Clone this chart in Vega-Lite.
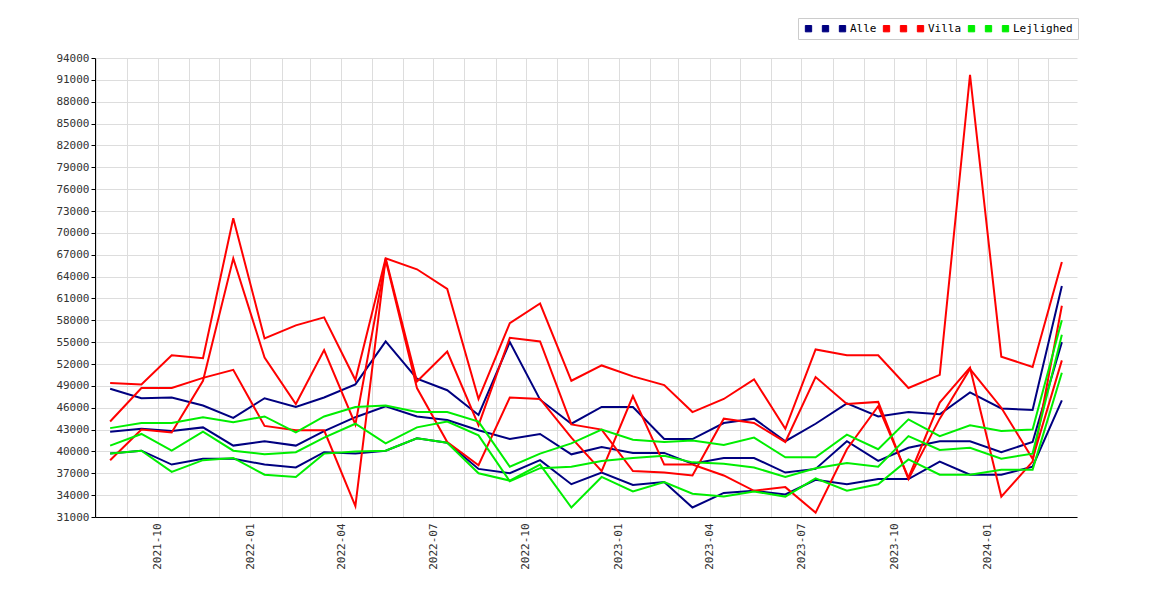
{
  "$schema": "https://vega.github.io/schema/vega-lite/v6.json",
  "width": 982,
  "height": 459,
  "autosize": "none",
  "padding": {"left": 95, "top": 58, "right": 93, "bottom": 83},
  "background": "white",
  "config": {
    "font": "DejaVu Sans Mono",
    "view": {"stroke": null},
    "axis": {"labelFont": "DejaVu Sans Mono", "labelFontSize": 11, "labelColor": "#333", "gridColor": "#dddddd", "domainColor": "#000", "tickColor": "#000"}
  },
  "data": {
    "values": [
      {"d":"2021-08-15","V1":49.4,"V2":44.1,"Villa":38.8,"A1":48.6,"A2":42.7,"Alle":39.7,"G1":43.2,"G2":40.8,"Lejlighed":39.7},
      {"d":"2021-09-15","V1":49.2,"V2":48.7,"Villa":43.0,"A1":47.3,"A2":43.1,"Alle":40.1,"G1":43.9,"G2":42.4,"Lejlighed":40.1},
      {"d":"2021-10-15","V1":53.2,"V2":48.7,"Villa":42.6,"A1":47.4,"A2":42.8,"Alle":38.2,"G1":43.9,"G2":40.1,"Lejlighed":37.2},
      {"d":"2021-11-15","V1":52.8,"V2":50.1,"Villa":49.7,"A1":46.3,"A2":43.3,"Alle":39.0,"G1":44.7,"G2":42.7,"Lejlighed":38.8},
      {"d":"2021-12-15","V1":72.0,"V2":51.2,"Villa":66.5,"A1":44.6,"A2":40.8,"Alle":39.0,"G1":44.0,"G2":40.1,"Lejlighed":39.1},
      {"d":"2022-01-15","V1":55.5,"V2":43.5,"Villa":52.9,"A1":47.3,"A2":41.4,"Alle":38.2,"G1":44.8,"G2":39.6,"Lejlighed":36.8},
      {"d":"2022-02-15","V1":57.3,"V2":42.9,"Villa":46.5,"A1":46.1,"A2":40.8,"Alle":37.8,"G1":42.6,"G2":39.9,"Lejlighed":36.5},
      {"d":"2022-03-15","V1":58.4,"V2":42.9,"Villa":53.9,"A1":47.4,"A2":42.8,"Alle":39.9,"G1":44.8,"G2":41.9,"Lejlighed":39.7},
      {"d":"2022-04-15","V1":49.8,"V2":32.5,"Villa":43.7,"A1":49.2,"A2":44.7,"Alle":39.7,"G1":46.1,"G2":43.8,"Lejlighed":40.0},
      {"d":"2022-05-15","V1":66.5,"V2":66.5,"Villa":66.3,"A1":55.1,"A2":46.2,"Alle":40.1,"G1":46.3,"G2":41.1,"Lejlighed":40.1},
      {"d":"2022-06-15","V1":65.0,"V2":49.6,"Villa":48.7,"A1":50.0,"A2":44.8,"Alle":41.8,"G1":45.4,"G2":43.3,"Lejlighed":41.8},
      {"d":"2022-07-15","V1":62.3,"V2":53.7,"Villa":41.3,"A1":48.4,"A2":44.3,"Alle":41.2,"G1":45.4,"G2":44.1,"Lejlighed":41.2},
      {"d":"2022-08-15","V1":47.2,"V2":43.6,"Villa":38.1,"A1":45.0,"A2":42.9,"Alle":37.6,"G1":44.1,"G2":42.2,"Lejlighed":37.0},
      {"d":"2022-09-15","V1":57.6,"V2":55.6,"Villa":47.4,"A1":55.0,"A2":41.7,"Alle":37.0,"G1":37.9,"G2":35.9,"Lejlighed":36.0},
      {"d":"2022-10-15","V1":60.3,"V2":55.1,"Villa":47.2,"A1":47.1,"A2":42.4,"Alle":38.8,"G1":39.7,"G2":37.7,"Lejlighed":38.2},
      {"d":"2022-11-15","V1":49.7,"V2":43.7,"Villa":41.9,"A1":43.8,"A2":39.6,"Alle":35.5,"G1":41.1,"G2":37.9,"Lejlighed":32.3},
      {"d":"2022-12-15","V1":51.8,"V2":43.0,"Villa":37.3,"A1":46.1,"A2":40.6,"Alle":37.1,"G1":43.0,"G2":38.7,"Lejlighed":36.5},
      {"d":"2023-01-15","V1":50.3,"V2":37.3,"Villa":47.6,"A1":46.1,"A2":39.8,"Alle":35.4,"G1":41.6,"G2":39.1,"Lejlighed":34.5},
      {"d":"2023-02-15","V1":49.1,"V2":37.1,"Villa":38.2,"A1":41.7,"A2":39.8,"Alle":35.8,"G1":41.3,"G2":39.4,"Lejlighed":35.8},
      {"d":"2023-03-15","V1":45.4,"V2":36.7,"Villa":38.2,"A1":41.7,"A2":38.3,"Alle":32.3,"G1":41.5,"G2":38.5,"Lejlighed":34.2},
      {"d":"2023-04-15","V1":47.2,"V2":44.5,"Villa":36.7,"A1":43.9,"A2":39.1,"Alle":34.3,"G1":40.9,"G2":38.3,"Lejlighed":33.8},
      {"d":"2023-05-15","V1":49.9,"V2":43.9,"Villa":34.6,"A1":44.5,"A2":39.1,"Alle":34.6,"G1":41.9,"G2":37.8,"Lejlighed":34.5},
      {"d":"2023-06-15","V1":43.1,"V2":41.3,"Villa":35.1,"A1":41.4,"A2":37.1,"Alle":34.1,"G1":39.2,"G2":36.5,"Lejlighed":33.8},
      {"d":"2023-07-15","V1":54.0,"V2":50.2,"Villa":31.6,"A1":43.8,"A2":37.6,"Alle":36.1,"G1":39.2,"G2":37.7,"Lejlighed":36.3},
      {"d":"2023-08-15","V1":53.2,"V2":46.5,"Villa":40.3,"A1":46.6,"A2":41.4,"Alle":35.5,"G1":42.3,"G2":38.4,"Lejlighed":34.6},
      {"d":"2023-09-15","V1":53.2,"V2":46.8,"Villa":46.2,"A1":44.8,"A2":38.7,"Alle":36.2,"G1":40.3,"G2":37.9,"Lejlighed":35.5},
      {"d":"2023-10-15","V1":48.7,"V2":36.2,"Villa":36.4,"A1":45.4,"A2":40.5,"Alle":36.2,"G1":44.4,"G2":42.1,"Lejlighed":38.9},
      {"d":"2023-11-15","V1":50.5,"V2":44.5,"Villa":46.7,"A1":45.1,"A2":41.4,"Alle":38.6,"G1":42.1,"G2":40.2,"Lejlighed":36.8},
      {"d":"2023-12-15","V1":91.7,"V2":51.3,"Villa":51.5,"A1":48.1,"A2":41.4,"Alle":36.8,"G1":43.6,"G2":40.5,"Lejlighed":36.8},
      {"d":"2024-01-15","V1":53.0,"V2":46.0,"Villa":33.8,"A1":45.9,"A2":39.9,"Alle":36.8,"G1":42.8,"G2":39.0,"Lejlighed":37.5},
      {"d":"2024-02-15","V1":51.6,"V2":39.0,"Villa":38.6,"A1":45.7,"A2":41.3,"Alle":37.9,"G1":43.0,"G2":39.7,"Lejlighed":37.5},
      {"d":"2024-03-15","V1":66.0,"V2":52.5,"Villa":60.0,"A1":62.7,"A2":55.0,"Alle":47.0,"G1":58.0,"G2":56.0,"Lejlighed":50.8}
    ]
  },
  "transform": [
    {"fold": ["A1","A2","Alle","V1","V2","Villa","G1","G2","Lejlighed"], "as": ["serie","k"]}
  ],
  "mark": {"type": "line", "strokeWidth": 2, "interpolate": "linear"},
  "encoding": {
    "x": {
      "field": "d", "type": "temporal",
      "scale": {"domain": ["2021-07-31", "2024-03-30"]},
      "axis": {"title": null, "format": "%Y-%m", "labelAngle": -90, "tickCount": {"interval": "month", "step": 1},
               "labelExpr": "month(datum.value) % 3 == 0 ? datum.label : ''", "ticks": false, "labelPadding": 6}
    },
    "y": {
      "field": "k", "type": "quantitative",
      "scale": {"domain": [31, 94], "nice": false, "zero": false},
      "axis": {"title": null, "values": [31,34,37,40,43,46,49,52,55,58,61,64,67,70,73,76,79,82,85,88,91,94],
               "labelExpr": "format(datum.value * 1000, 'd')", "ticks": true, "tickSize": 4}
    },
    "color": {
      "field": "serie", "type": "nominal",
      "scale": {"domain": ["A1","A2","Alle","V1","V2","Villa","G1","G2","Lejlighed"],
                "range": ["#000080","#000080","#000080","#ff0000","#ff0000","#ff0000","#00ee00","#00ee00","#00ee00"]},
      "legend": {
        "title": null, "orient": "none", "legendX": 703, "legendY": -40, "direction": "horizontal",
        "symbolType": "square", "symbolSize": 40, "symbolStrokeWidth": 1,
        "labelFont": "DejaVu Sans Mono", "labelFontSize": 11, "columnPadding": 4, "labelOffset": 2,
        "labelExpr": "indexof(['Alle','Villa','Lejlighed'], datum.label) >= 0 ? datum.label : ''",
        "strokeColor": "#cccccc", "padding": 5,
        "encode": {"symbols": {"update": {"fill": {"scale": "color", "field": "value"}, "stroke": {"value": "#000"}}}}
      }
    }
  }
}
